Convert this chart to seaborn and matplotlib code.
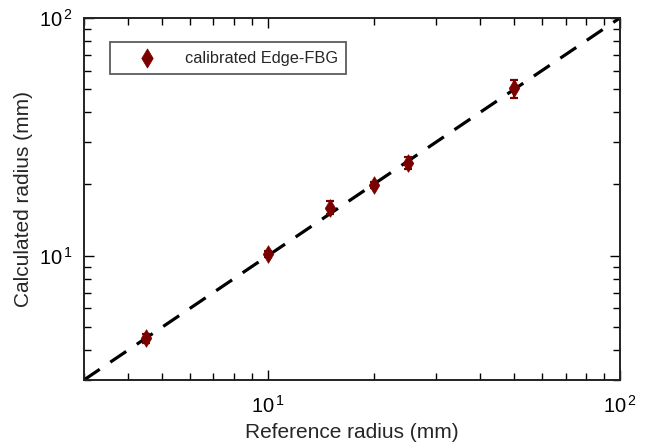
import numpy as np
import pandas as pd
import matplotlib
matplotlib.use("Agg")
import matplotlib.pyplot as plt
import seaborn as sns

# Reference vs calculated bending radius (mm)
reference_radius = [4.5, 10, 15, 20, 25, 50]
calculated_radius = [4.5, 10.2, 15.9, 19.8, 24.5, 50.5]
radius_error = [0.2, 0.3, 1.0, 0.6, 1.4, 4.5]
ideal_line = [3, 100]

sns.set_theme(style="ticks")
plt.rcParams["font.family"] = ["Liberation Sans", "DejaVu Sans"]
plt.rcParams["mathtext.fontset"] = "custom"
plt.rcParams["mathtext.rm"] = "Liberation Sans"
plt.rcParams["mathtext.it"] = "Liberation Sans:italic"

df = pd.DataFrame({"ref": reference_radius, "calc": calculated_radius, "err": radius_error})
line_df = pd.DataFrame({"x": ideal_line, "y": ideal_line})

fig = plt.figure(figsize=(6.5, 4.45), dpi=100)
ax = fig.add_axes([0.129, 0.146, 0.825, 0.814])

# y = x reference line
sns.lineplot(data=line_df, x="x", y="y", ax=ax, color="black", lw=2.3,
             dashes=False, zorder=1)
ax.lines[-1].set_dashes([6, 4])

color = "#7a0000"
ax.errorbar(df["ref"], df["calc"], yerr=df["err"], fmt="none", ecolor=color,
            elinewidth=1.6, capsize=2.7, capthick=1.6, zorder=2)
sns.scatterplot(data=df, x="ref", y="calc", ax=ax, marker="d", s=80,
                color=color, edgecolor=color, linewidth=0.5, zorder=3,
                label="calibrated Edge-FBG")

ax.set_xscale("log")
ax.set_yscale("log")
ax.set_xlim(3, 100)
ax.set_ylim(3, 100)

ax.set_xticks([10, 100])
ax.set_xticklabels([r"$10^{\,1}$", r"$10^{\,2}$"])
ax.set_yticks([10, 100])
ax.set_yticklabels([r"$10^{\,1}$", r"$10^{\,2}$"])

ax.tick_params(which="both", direction="in", top=True, right=True, width=1.0,
               labelsize=14.5, colors="black")
ax.tick_params(which="major", length=7)
ax.tick_params(axis="x", which="major", pad=11)
ax.tick_params(axis="y", which="major", pad=8)
ax.tick_params(which="minor", length=5)
for s in ax.spines.values():
    s.set_linewidth(1.4)
    s.set_color("#222222")

ax.set_xlabel("Reference radius (mm)", fontsize=15, labelpad=4)
ax.set_ylabel("Calculated radius (mm)", fontsize=15, labelpad=4)

leg = ax.legend(loc="upper left", bbox_to_anchor=(0.048, 0.932), frameon=True,
                fancybox=False, edgecolor="#333333", fontsize=11.8,
                handletextpad=0.5, borderpad=0.5, handlelength=3.6,
                borderaxespad=0)
leg.get_frame().set_linewidth(1.3)
for h in leg.legend_handles:
    h.set_sizes([95])

fig.savefig("out.png", dpi=100)
